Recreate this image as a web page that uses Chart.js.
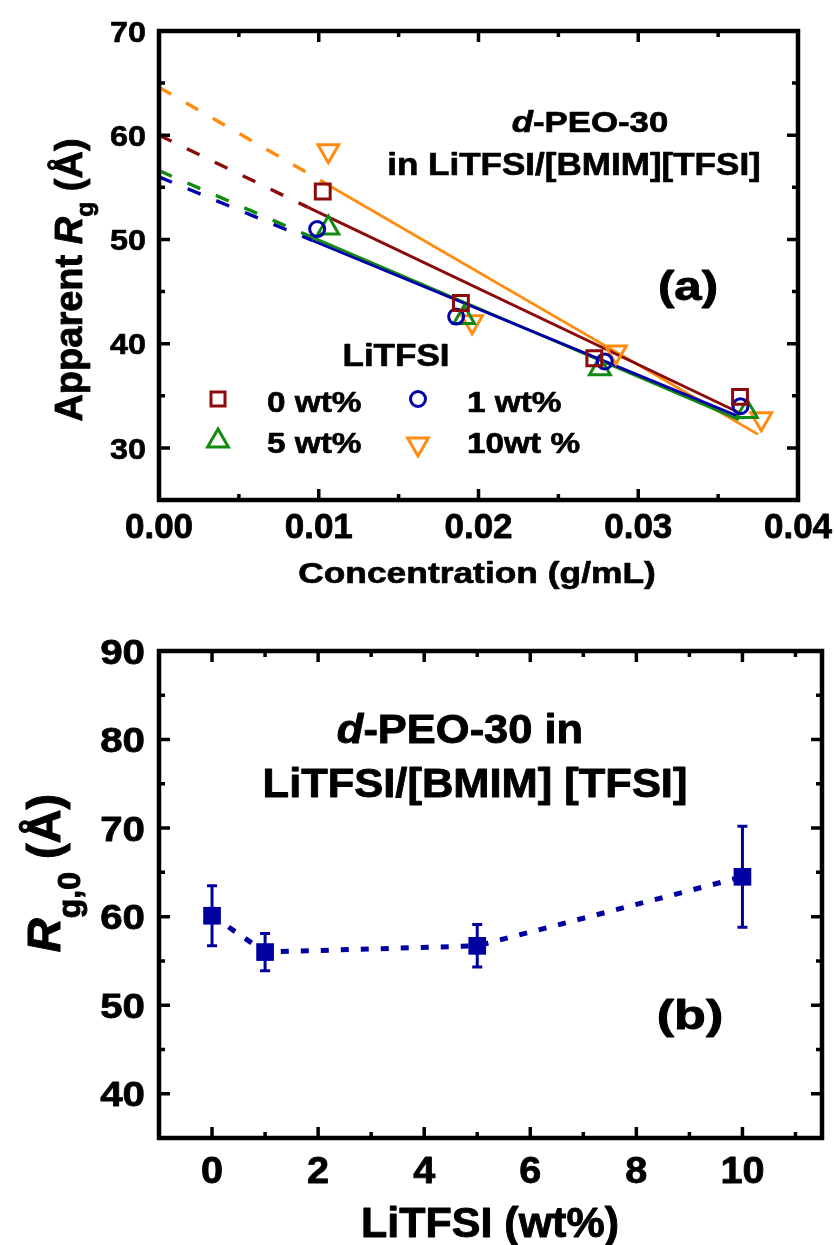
<!DOCTYPE html>
<html>
<head>
<meta charset="utf-8">
<script src="https://cdn.jsdelivr.net/npm/chart.js@4.4.1/dist/chart.umd.min.js"></script>
<style>
  html, body { margin: 0; padding: 0; background: #fff; }
  #wrap { position: relative; width: 835px; height: 1245px; }
  canvas { position: absolute; left: 0; }
</style>
</head>
<body>
<div id="wrap">
  <canvas id="chartA" width="835" height="600" style="top:0"></canvas>
  <canvas id="chartB" width="835" height="645" style="top:600px"></canvas>
</div>
<script>
// ---- panel (a): apparent Rg vs concentration ----
const conc0 = [0.01025, 0.0189, 0.02725, 0.03637];
const rg0 = [54.6, 43.9, 38.6, 34.9];
const conc1 = [0.0099, 0.0186, 0.0279, 0.0364];
const rg1 = [51.0, 42.6, 38.3, 34.0];
const conc5 = [0.0106, 0.0191, 0.0276, 0.0368];
const rg5 = [51.1, 42.5, 37.6, 33.5];
const conc10 = [0.0106, 0.0196, 0.0286, 0.0377];
const rg10 = [58.5, 42.1, 39.2, 32.8];

// linear fits: [x, y] at c = 0, start of the solid part, end of the solid part
const fit0 = [[0, 60.0], [0.0093, 53.1], [0.0363, 33.4]];
const fit1 = [[0, 56.0], [0.0096, 49.9], [0.0363, 33.0]];
const fit5 = [[0, 56.6], [0.0096, 50.2], [0.0363, 32.7]];
const fit10 = [[0, 64.6], [0.0104, 55.4], [0.0375, 31.3]];

const xMajorA = [0, 0.01, 0.02, 0.03, 0.04];
const xMinorA = [0.005, 0.015, 0.025, 0.035];
const yMajorA = [30, 40, 50, 60, 70];
const yMinorA = [35, 45, 55, 65];

// ---- panel (b): Rg,0 vs LiTFSI content ----
const litfsi = [0, 1, 5, 10];
const rgZero = [60.1, 56.0, 56.7, 64.5];
const rgZeroErr = [3.4, 2.1, 2.4, 5.7];

const xMajorB = [0, 2, 4, 6, 8, 10];
const xMinorB = [1, 3, 5, 7, 9, 11];
const yMajorB = [40, 50, 60, 70, 80, 90];
const yMinorB = [45, 55, 65, 75, 85];

const RED = '#8b0a0a', BLUE = '#0000a8', GREEN = '#128a12', ORANGE = '#ff8c10';
const NAVY = '#0000a0';
const FONT = '"Liberation Sans", Arial, sans-serif';

function runFont(r, size) {
  return (r.it ? 'italic ' : '') + 'bold ' + size + 'px ' + FONT;
}

// draws a list of text runs (italic / subscript pieces) with optional horizontal stretch
function drawRich(ctx, runs, x, y, o) {
  const size = o.size, sx = o.sx || 1;
  const subSize = size * (o.subSize || 0.65);
  ctx.save();
  ctx.translate(x, y);
  if (o.rot) ctx.rotate(o.rot);
  ctx.scale(sx, 1);
  ctx.fillStyle = '#000';
  ctx.strokeStyle = '#000';
  ctx.lineWidth = size * 0.022;
  ctx.lineJoin = 'round';
  ctx.textBaseline = 'alphabetic';
  ctx.textAlign = 'left';
  let w = 0;
  runs.forEach(r => {
    ctx.font = runFont(r, r.sub ? subSize : size);
    w += ctx.measureText(r.t).width;
  });
  let cx = o.align === 'center' ? -w / 2 : (o.align === 'right' ? -w : 0);
  runs.forEach(r => {
    ctx.font = runFont(r, r.sub ? subSize : size);
    const dy = r.sub ? size * (o.subDy || 0.3) : 0;
    ctx.fillText(r.t, cx, dy);
    ctx.strokeText(r.t, cx, dy);
    cx += ctx.measureText(r.t).width;
  });
  ctx.restore();
}

function plain(t) { return [{ t: t }]; }

// box frame with inward ticks on all four sides, plus tick labels
function framePlugin(f) {
  return {
    id: 'frame',
    afterDraw(chart) {
      const ctx = chart.ctx;
      const { left, right, top, bottom } = chart.chartArea;
      const xs = chart.scales.x, ys = chart.scales.y;
      ctx.save();
      ctx.strokeStyle = '#000';
      ctx.lineWidth = 4.5;
      ctx.strokeRect(left, top, right - left, bottom - top);
      ctx.lineWidth = 3.5;
      ctx.beginPath();
      const tickX = (vals, len) => vals.forEach(v => {
        const p = xs.getPixelForValue(v);
        ctx.moveTo(p, bottom); ctx.lineTo(p, bottom - len);
        ctx.moveTo(p, top); ctx.lineTo(p, top + len);
      });
      const tickY = (vals, len) => vals.forEach(v => {
        const p = ys.getPixelForValue(v);
        ctx.moveTo(left, p); ctx.lineTo(left + len, p);
        ctx.moveTo(right, p); ctx.lineTo(right - len, p);
      });
      tickX(f.xMajor, 11); tickX(f.xMinor, 6);
      tickY(f.yMajor, 11); tickY(f.yMinor, 6);
      ctx.stroke();
      ctx.restore();

      f.xMajor.forEach(v => {
        drawRich(ctx, plain(f.xFmt(v)), xs.getPixelForValue(v), f.xLab.base,
          { size: f.xLab.size, sx: f.xLab.sx, align: 'center' });
      });
      f.yMajor.forEach(v => {
        const p = ys.getPixelForValue(v) + f.yLab.size * 0.358;
        drawRich(ctx, plain(String(v)), f.yLab.right, p,
          { size: f.yLab.size, sx: f.yLab.sx, align: 'right' });
      });
      f.texts.forEach(t => drawRich(ctx, t.runs, t.x, t.y, t));
    }
  };
}

function markerPlugin(items) {
  return {
    id: 'legendMarks',
    afterDraw(chart) {
      const ctx = chart.ctx;
      ctx.save();
      ctx.lineWidth = 3;
      items.forEach(m => {
        ctx.strokeStyle = m.color;
        ctx.beginPath();
        if (m.shape === 'rect') {
          ctx.rect(m.x - 7, m.y - 7, 14, 14);
        } else if (m.shape === 'circle') {
          ctx.arc(m.x, m.y, 7.5, 0, Math.PI * 2);
        } else {
          const r = 12, s = m.shape === 'down' ? -1 : 1;
          ctx.moveTo(m.x, m.y - s * r);
          ctx.lineTo(m.x + r * 0.866, m.y + s * r * 0.5);
          ctx.lineTo(m.x - r * 0.866, m.y + s * r * 0.5);
          ctx.closePath();
        }
        ctx.stroke();
      });
      ctx.restore();
    }
  };
}

function pts(xs, ys) { return xs.map((x, i) => ({ x: x, y: ys[i] })); }
function seg(a, b) { return [{ x: a[0], y: a[1] }, { x: b[0], y: b[1] }]; }

function fitSets(fit, color) {
  return [
    { type: 'line', data: seg(fit[0], fit[1]), borderColor: color, borderWidth: 3.4,
      borderDash: [14, 17], pointRadius: 0, order: 2 },
    { type: 'line', data: seg(fit[1], fit[2]), borderColor: color, borderWidth: 2.8,
      pointRadius: 0, order: 2 }
  ];
}

function markerSet(xs, ys, color, style, radius, rot) {
  return {
    type: 'scatter', data: pts(xs, ys), borderColor: color, backgroundColor: 'rgba(0,0,0,0)',
    pointStyle: style, pointRadius: radius, pointHoverRadius: radius, pointBorderWidth: 3,
    pointRotation: rot || 0, order: 0
  };
}

const hiddenScale = (min, max) => ({ type: 'linear', min: min, max: max, display: false });

function initPanelA() {
  const texts = [
    { runs: plain('Concentration (g/mL)'), x: 477, y: 583, size: 29, sx: 1.22, align: 'center' },
    { runs: [{ t: 'Apparent ' }, { t: 'R', it: true }, { t: 'g', sub: true }, { t: ' (Å)' }],
      x: 82, y: 280, size: 38, align: 'center', rot: -Math.PI / 2, subSize: 0.65, subDy: 0.28 },
    { runs: [{ t: 'd', it: true }, { t: '-PEO-30' }], x: 590, y: 132, size: 30, sx: 1.16, align: 'center' },
    { runs: plain('in LiTFSI/[BMIM][TFSI]'), x: 574, y: 175, size: 31, sx: 1.13, align: 'center' },
    { runs: plain('(a)'), x: 688, y: 300, size: 41, sx: 1.2, align: 'center' },
    { runs: plain('LiTFSI'), x: 396, y: 366, size: 31, sx: 1.13, align: 'center' },
    { runs: plain('0 wt%'), x: 267, y: 412, size: 29, sx: 1.15 },
    { runs: plain('1 wt%'), x: 467, y: 412, size: 29, sx: 1.15 },
    { runs: plain('5 wt%'), x: 267, y: 453, size: 29, sx: 1.15 },
    { runs: plain('10wt %'), x: 467, y: 453, size: 29, sx: 1.15 }
  ];
  new Chart(document.getElementById('chartA'), {
    type: 'scatter',
    data: {
      datasets: [
        markerSet(conc0, rg0, RED, 'rect', 10.5),
        markerSet(conc1, rg1, BLUE, 'circle', 7.5),
        markerSet(conc5, rg5, GREEN, 'triangle', 12),
        markerSet(conc10, rg10, ORANGE, 'triangle', 12, 180),
        ...fitSets(fit0, RED),
        ...fitSets(fit1, BLUE),
        ...fitSets(fit5, GREEN),
        ...fitSets(fit10, ORANGE)
      ]
    },
    options: {
      responsive: false,
      animation: false,
      devicePixelRatio: 1,
      layout: { padding: { left: 159, right: 37, top: 31, bottom: 100 } },
      scales: { x: hiddenScale(0, 0.04), y: hiddenScale(25, 70) },
      plugins: { legend: { display: false }, tooltip: { enabled: false } }
    },
    plugins: [
      framePlugin({
        xMajor: xMajorA, xMinor: xMinorA, yMajor: yMajorA, yMinor: yMinorA,
        xFmt: v => v.toFixed(2),
        xLab: { base: 538, size: 35, sx: 1.0 },
        yLab: { right: 146, size: 30, sx: 1.08 },
        texts: texts
      }),
      markerPlugin([
        { shape: 'rect', x: 218, y: 399, color: RED },
        { shape: 'circle', x: 418, y: 399, color: BLUE },
        { shape: 'up', x: 218, y: 441, color: GREEN },
        { shape: 'down', x: 418, y: 444, color: ORANGE }
      ])
    ]
  });
}

// error bars drawn under the squares, from the y scale
const errorBarPlugin = {
  id: 'errorBars',
  beforeDatasetsDraw(chart) {
    const ctx = chart.ctx, xs = chart.scales.x, ys = chart.scales.y;
    ctx.save();
    ctx.strokeStyle = NAVY;
    ctx.lineWidth = 3;
    ctx.beginPath();
    litfsi.forEach((w, i) => {
      const px = xs.getPixelForValue(w);
      const hi = ys.getPixelForValue(rgZero[i] + rgZeroErr[i]);
      const lo = ys.getPixelForValue(rgZero[i] - rgZeroErr[i]);
      ctx.moveTo(px, hi); ctx.lineTo(px, lo);
      ctx.moveTo(px - 5, hi); ctx.lineTo(px + 5, hi);
      ctx.moveTo(px - 5, lo); ctx.lineTo(px + 5, lo);
    });
    ctx.stroke();
    ctx.restore();
  }
};

function initPanelB() {
  const texts = [
    { runs: plain('LiTFSI (wt%)'), x: 490, y: 637, size: 43, align: 'center' },
    { runs: [{ t: 'R', it: true }, { t: 'g,0', sub: true }, { t: ' (Å)' }],
      x: 60, y: 273, size: 47, align: 'center', rot: -Math.PI / 2, subSize: 0.68, subDy: 0.42 },
    { runs: [{ t: 'd', it: true }, { t: '-PEO-30 in' }], x: 460, y: 143, size: 41, sx: 1.06, align: 'center' },
    { runs: plain('LiTFSI/[BMIM] [TFSI]'), x: 475, y: 197, size: 41, sx: 1.06, align: 'center' },
    { runs: plain('(b)'), x: 690, y: 429, size: 41, sx: 1.27, align: 'center' }
  ];
  new Chart(document.getElementById('chartB'), {
    type: 'scatter',
    data: {
      datasets: [{
        type: 'line',
        data: pts(litfsi, rgZero),
        borderColor: NAVY,
        borderWidth: 5,
        borderDash: [8, 12],
        backgroundColor: NAVY,
        pointStyle: 'rect',
        pointRadius: 12.5,
        pointHoverRadius: 12.5,
        pointBorderWidth: 0,
        pointBackgroundColor: NAVY
      }]
    },
    options: {
      responsive: false,
      animation: false,
      devicePixelRatio: 1,
      layout: { padding: { left: 159, right: 13, top: 51, bottom: 107 } },
      scales: { x: hiddenScale(-1, 11.5), y: hiddenScale(35, 90) },
      plugins: { legend: { display: false }, tooltip: { enabled: false } }
    },
    plugins: [
      errorBarPlugin,
      framePlugin({
        xMajor: xMajorB, xMinor: xMinorB, yMajor: yMajorB, yMinor: yMinorB,
        xFmt: v => String(v),
        xLab: { base: 583, size: 37, sx: 1.07 },
        yLab: { right: 145, size: 35, sx: 1.15 },
        texts: texts
      })
    ]
  });
}

document.addEventListener('DOMContentLoaded', function() {
  initPanelA();
  initPanelB();
});
</script>
</body>
</html>
